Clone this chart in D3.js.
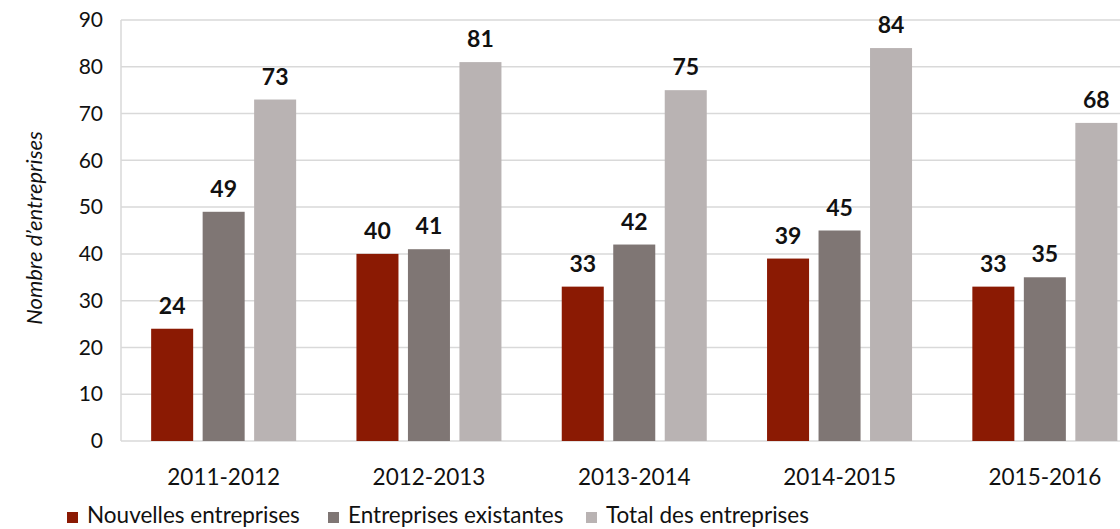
<!DOCTYPE html>
<html>
<head>
<meta charset="utf-8">
<script src="https://cdn.jsdelivr.net/npm/d3@7"></script>
<style>
  body { margin: 0; background: #fff; }
  svg { display: block; font-family: Lato, "Noto Sans", sans-serif; }
</style>
</head>
<body>
<script>
// data
var years = ["2011-2012", "2012-2013", "2013-2014", "2014-2015", "2015-2016"];
var series = ["Nouvelles entreprises", "Entreprises existantes", "Total des entreprises"];
var nouvelles = [24, 40, 33, 39, 33];
var existantes = [49, 41, 42, 45, 35];
var total = [73, 81, 75, 84, 68];
var yTicks = [0, 10, 20, 30, 40, 50, 60, 70, 80, 90];

var colors = ["#8b1a03", "#7f7674", "#b9b3b3"];
var values = [nouvelles, existantes, total];

var width = 1120, height = 529;
var margin = {top: 20, left: 121, bottom: 88};

var svg = d3.select("body")
  .append("svg")
  .attr("width", width)
  .attr("height", height);

// plot goes past the right edge (clipped like the original)
var x0 = d3.scaleBand()
  .domain(years)
  .range([margin.left, margin.left + 5 * 205.3]);

var groupW = 145;
var x1 = d3.scaleBand()
  .domain(series)
  .range([0, groupW])
  .paddingInner(0.184);

var y = d3.scaleLinear()
  .domain([0, 90])
  .range([height - margin.bottom, margin.top]);

// grid lines
svg.append("g")
  .selectAll("line")
  .data(yTicks)
  .enter()
  .append("line")
  .attr("x1", margin.left)
  .attr("x2", width)
  .attr("y1", d => y(d))
  .attr("y2", d => y(d))
  .attr("stroke", "#d9d9d9")
  .attr("stroke-width", 1.5);

// left axis line
svg.append("line")
  .attr("x1", margin.left).attr("x2", margin.left)
  .attr("y1", y(90)).attr("y2", y(0))
  .attr("stroke", "#d9d9d9")
  .attr("stroke-width", 1.5);

// y axis
var yAxis = svg.append("g")
  .attr("transform", "translate(" + margin.left + ",0)")
  .call(d3.axisLeft(y).tickValues(yTicks).tickSize(0).tickPadding(18));
yAxis.select(".domain").remove();
yAxis.selectAll("text")
  .style("font-size", "21px")
  .style("font-family", "Lato, 'Noto Sans', sans-serif")
  .attr("fill", "#111");

// x axis
var xAxis = svg.append("g")
  .attr("transform", "translate(0," + y(0) + ")")
  .call(d3.axisBottom(x0).tickSize(0).tickPadding(28));
xAxis.select(".domain").remove();
xAxis.selectAll("text")
  .style("font-size", "22.5px")
  .style("font-family", "Lato, 'Noto Sans', sans-serif")
  .attr("fill", "#111");

// y title
svg.append("text")
  .text("Nombre d\u2019entreprises")
  .attr("transform", "translate(42,228) rotate(-90)")
  .style("text-anchor", "middle")
  .style("font-style", "italic")
  .style("font-size", "22px")
  .attr("fill", "#111");

// bars
var groups = svg.selectAll(".grp")
  .data(years)
  .enter()
  .append("g")
  .attr("class", "grp")
  .attr("transform", d => "translate(" + (x0(d) + (x0.bandwidth() - groupW) / 2) + ",0)");

groups.each(function(year, i) {
  var g = d3.select(this);
  var rows = series.map((s, j) => ({s: s, v: values[j][i], c: colors[j]}));
  g.selectAll("rect")
    .data(rows)
    .enter()
    .append("rect")
    .attr("x", d => x1(d.s))
    .attr("width", x1.bandwidth())
    .attr("y", d => y(d.v))
    .attr("height", d => y(0) - y(d.v))
    .attr("fill", d => d.c);
  g.selectAll("text")
    .data(rows)
    .enter()
    .append("text")
    .text(d => d.v)
    .attr("x", d => x1(d.s) + x1.bandwidth() / 2)
    .attr("y", d => y(d.v) - 15)
    .style("text-anchor", "middle")
    .style("font-weight", "bold")
    .style("font-size", "23px")
    .attr("fill", "#111");
});

// legend
var legendX = [67, 328, 586];
var legend = svg.selectAll(".leg")
  .data(series)
  .enter()
  .append("g")
  .attr("class", "leg")
  .attr("transform", (d, i) => "translate(" + legendX[i] + ",512)");
legend.append("rect")
  .attr("width", 11)
  .attr("height", 11)
  .attr("fill", (d, i) => colors[i]);
legend.append("text")
  .text(d => d)
  .attr("x", 20)
  .attr("y", 11)
  .style("font-size", "22.5px")
  .attr("fill", "#111");
</script>
</body>
</html>
